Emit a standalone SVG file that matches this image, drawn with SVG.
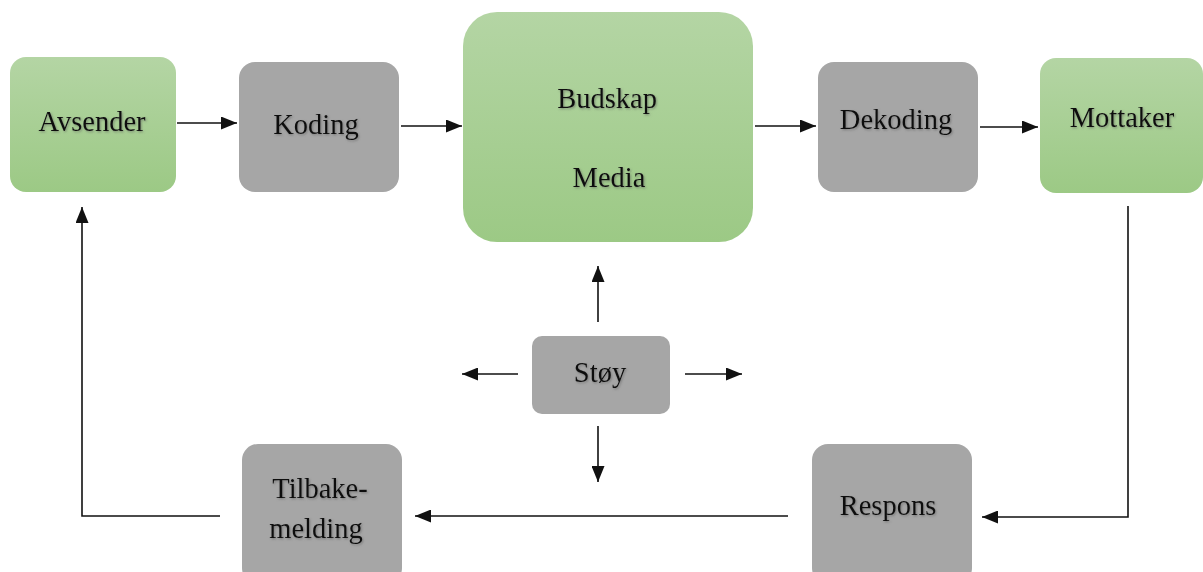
<svg xmlns="http://www.w3.org/2000/svg" width="1203" height="572" viewBox="0 0 1203 572">
  <style>
    .green { fill: url(#greenGrad); }
    .gray { fill: #a6a6a6; }
    .label { font-family: "Liberation Serif", "Times New Roman", serif; font-size: 28.5px; fill: #111; text-anchor: middle; filter: url(#textShadow); }
    .conn { fill: none; stroke: #111; stroke-width: 1.6; }
    .arrow { marker-end: url(#arrowhead); }
  </style>
  <defs>
    <linearGradient id="greenGrad" x1="0" y1="0" x2="0" y2="1">
      <stop offset="0" stop-color="#b4d5a4"/>
      <stop offset="1" stop-color="#9cc985"/>
    </linearGradient>
    <filter id="textShadow" x="-10%" y="-30%" width="120%" height="160%">
      <feDropShadow dx="1" dy="1.2" stdDeviation="0.8" flood-color="#555" flood-opacity="0.55"/>
    </filter>
    <marker id="arrowhead" viewBox="0 0 16 13" refX="16" refY="6.5" markerWidth="16" markerHeight="13" markerUnits="userSpaceOnUse" orient="auto">
      <path d="M0,0 L16,6.5 L0,13 Z" fill="#111"/>
    </marker>
  </defs>

  <rect width="1203" height="572" fill="#ffffff"/>

  <!-- connectors -->
  <g id="connectors">
    <line class="conn arrow" x1="177" y1="123" x2="237" y2="123"/>
    <line class="conn arrow" x1="401" y1="126" x2="462" y2="126"/>
    <line class="conn arrow" x1="755" y1="126" x2="816" y2="126"/>
    <line class="conn arrow" x1="980" y1="127" x2="1038" y2="127"/>
    <polyline class="conn arrow" points="1128,206 1128,517 982,517"/>
    <line class="conn arrow" x1="788" y1="516" x2="415" y2="516"/>
    <polyline class="conn arrow" points="220,516 82,516 82,207"/>
    <!-- noise arrows -->
    <line class="conn arrow" x1="598" y1="322" x2="598" y2="266"/>
    <line class="conn arrow" x1="518" y1="374" x2="462" y2="374"/>
    <line class="conn arrow" x1="685" y1="374" x2="742" y2="374"/>
    <line class="conn arrow" x1="598" y1="426" x2="598" y2="482"/>
  </g>

  <g id="avsender">
    <rect class="green" x="10" y="57" width="166" height="135" rx="16"/>
    <text class="label" x="92" y="131">Avsender</text>
  </g>

  <g id="koding">
    <rect class="gray" x="239" y="62" width="160" height="130" rx="16"/>
    <text class="label" x="316" y="134">Koding</text>
  </g>

  <g id="budskap-media">
    <rect class="green" x="463" y="12" width="290" height="230" rx="34"/>
    <text class="label" x="607" y="108">Budskap</text>
    <text class="label" x="609" y="187">Media</text>
  </g>

  <g id="dekoding">
    <rect class="gray" x="818" y="62" width="160" height="130" rx="16"/>
    <text class="label" x="896" y="129">Dekoding</text>
  </g>

  <g id="mottaker">
    <rect class="green" x="1040" y="58" width="163" height="135" rx="16"/>
    <text class="label" x="1122" y="127">Mottaker</text>
  </g>

  <g id="stoy">
    <rect class="gray" x="532" y="336" width="138" height="78" rx="10"/>
    <text class="label" x="600" y="382">Støy</text>
  </g>

  <g id="tilbakemelding">
    <rect class="gray" x="242" y="444" width="160" height="140" rx="16"/>
    <text class="label" x="320" y="498">Tilbake-</text>
    <text class="label" x="316" y="538">melding</text>
  </g>

  <g id="respons">
    <rect class="gray" x="812" y="444" width="160" height="140" rx="16"/>
    <text class="label" x="888" y="515">Respons</text>
  </g>
</svg>
